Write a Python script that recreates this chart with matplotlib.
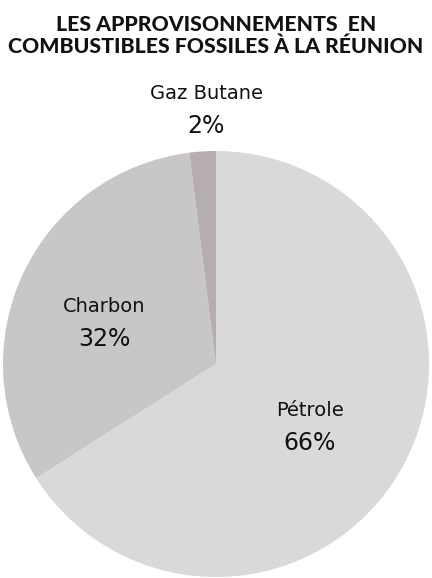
import numpy as np
import matplotlib
matplotlib.use("Agg")
import matplotlib.pyplot as plt

categories = ["Pétrole", "Charbon", "Gaz Butane"]
values = [66, 32, 2]
colors = ["#d9d9d9", "#c9c6c9", "#b5adb1"]
title = "LES APPROVISONNEMENTS  EN\nCOMBUSTIBLES FOSSILES À LA RÉUNION"

W, H = 432, 578
fig = plt.figure(figsize=(W / 100, H / 100), dpi=100)
fig.patch.set_facecolor("white")

cx, cy, R = 216, 364, 213
ax = fig.add_axes([(cx - R) / W, (H - cy - R) / H, 2 * R / W, 2 * R / H])
wedges, _ = ax.pie(values, colors=colors, startangle=90, counterclock=False,
                   radius=1, wedgeprops=dict(linewidth=0))
ax.set_xlim(-1, 1)
ax.set_ylim(-1, 1)
ax.set_aspect("equal")
ax.axis("off")

# label placement: (distance from centre, angle tweak)
place = {"Pétrole": (0.53, -4.8), "Charbon": (0.56, 4.8), "Gaz Butane": (1.198, -1.4)}
for w, cat, v in zip(wedges, categories, values):
    th = (w.theta1 + w.theta2) / 2
    r, dth = place[cat]
    t = np.deg2rad(th + dth)
    x, y = r * np.cos(t), r * np.sin(t)
    ax.text(x, y + 0.075, cat, ha="center", va="center", fontsize=14,
            family="DejaVu Sans", color="#111111", clip_on=False)
    ax.text(x, y - 0.078, f"{v}%", ha="center", va="center", fontsize=17,
            family="DejaVu Sans", color="#111111", clip_on=False)

fig.text(0.5, 1 - 35.5 / H, title, ha="center", va="center", fontsize=15.3,
         fontweight="black", family="Lato", color="#111111", linespacing=1.15)

fig.savefig("out.png", dpi=100, facecolor="white")
